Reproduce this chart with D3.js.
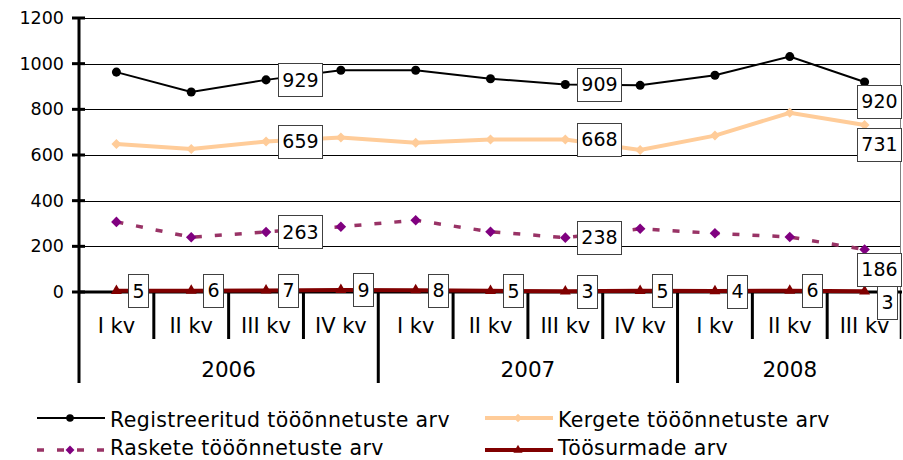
<!DOCTYPE html>
<html>
<head>
<meta charset="utf-8">
<script src="https://cdn.jsdelivr.net/npm/d3@7"></script>
<style>
  html, body { margin: 0; padding: 0; background: #fff; }
  svg { display: block; font-family: "DejaVu Sans", Verdana, sans-serif; }
</style>
</head>
<body>
<svg id="chart" width="903" height="460"></svg>
<script>
// ---- data ----
const quarters = ["I kv","II kv","III kv","IV kv","I kv","II kv","III kv","IV kv","I kv","II kv","III kv"];
const years = ["2006","2007","2008"];
const yearCounts = [4, 4, 3];
const yTicks = [0, 200, 400, 600, 800, 1000, 1200];

const registered = [963, 876, 929, 971, 971, 934, 909, 905, 949, 1031, 920];
const kergete    = [648, 626, 659, 677, 654, 668, 668, 622, 685, 785, 731];
const raskete    = [307, 240, 263, 286, 314, 264, 238, 277, 257, 241, 186];
const deaths     = [5, 6, 7, 9, 8, 5, 3, 5, 4, 6, 3];

const seriesNames = ["Registreeritud tööõnnetuste arv", "Kergete tööõnnetuste arv",
                     "Raskete tööõnnetuste arv", "Töösurmade arv"];
const labelledIdx = [2, 6, 10];

(function () {
// ---- layout ----
const pLeft = 79, pRight = 902, pTop = 18, pBottom = 292;
const svg = d3.select("#chart");

const x = d3.scaleBand().domain(d3.range(quarters.length)).range([pLeft, pRight]).padding(0);
const y = d3.scaleLinear().domain([0, 1200]).range([pBottom, pTop]);
const cx = i => x(i) + x.bandwidth() / 2;
const edge = i => i < quarters.length ? x(i) : pRight;

// square-ish diamond symbol (area = 2 r^2)
const symbolRhomb = {
  draw(ctx, size) {
    const r = Math.sqrt(size / 2);
    ctx.moveTo(0, -r); ctx.lineTo(r, 0); ctx.lineTo(0, r); ctx.lineTo(-r, 0); ctx.closePath();
  }
};

// gridlines
svg.append("g").selectAll("line").data(yTicks.filter(d => d > 0)).join("line")
  .attr("x1", pLeft).attr("x2", pRight - 1)
  .attr("y1", d => Math.round(y(d)) + 0.5).attr("y2", d => Math.round(y(d)) + 0.5)
  .attr("stroke", "#000").attr("stroke-width", 1);

// right border
svg.append("line").attr("x1", pRight - 1.5).attr("x2", pRight - 1.5)
  .attr("y1", y(1200)).attr("y2", pBottom).attr("stroke", "#808080").attr("stroke-width", 1);

// y axis
const yAxis = d3.axisLeft(y).tickValues(yTicks).tickFormat(d3.format("d")).tickSize(0).tickPadding(15);
const gy = svg.append("g").attr("transform", `translate(${pLeft},0)`).call(yAxis);
gy.select(".domain").remove();
gy.selectAll("text").attr("font-size", 17.5).attr("fill", "#000")
  .attr("font-family", "DejaVu Sans, Verdana, sans-serif");
svg.append("g").selectAll("line").data(yTicks).join("line")
  .attr("x1", pLeft - 7).attr("x2", pLeft + 6)
  .attr("y1", d => y(d)).attr("y2", d => y(d))
  .attr("stroke", "#000").attr("stroke-width", 3);
svg.append("line").attr("x1", pLeft).attr("x2", pLeft).attr("y1", pTop).attr("y2", 383)
  .attr("stroke", "#000").attr("stroke-width", 3);

// x axis
svg.append("line").attr("x1", pLeft).attr("x2", pRight).attr("y1", pBottom).attr("y2", pBottom)
  .attr("stroke", "#000").attr("stroke-width", 3);
// quarter dividers
const dividers = d3.range(1, quarters.length + 1);
const yearStarts = [0];
yearCounts.forEach((c, i) => yearStarts.push(yearStarts[i] + c));
svg.append("g").selectAll("line").data(dividers).join("line")
  .attr("x1", i => Math.min(edge(i), pRight - 1.5))
  .attr("x2", i => Math.min(edge(i), pRight - 1.5))
  .attr("y1", pBottom)
  .attr("y2", i => (yearStarts.includes(i) && i < quarters.length) ? 383 : 339)
  .attr("stroke", "#000")
  .attr("stroke-width", i => i < quarters.length ? 3 : 1.5);
// quarter labels
svg.append("g").selectAll("text").data(quarters).join("text")
  .attr("x", (d, i) => cx(i)).attr("y", 333)
  .attr("text-anchor", "middle").attr("font-size", 21).attr("fill", "#000")
  .text(d => d);
// year labels
svg.append("g").selectAll("text").data(years).join("text")
  .attr("x", (d, i) => (edge(yearStarts[i]) + edge(yearStarts[i + 1])) / 2)
  .attr("y", 377).attr("text-anchor", "middle").attr("font-size", 21.5).attr("fill", "#000")
  .text(d => d);

// ---- series ----
const lineGen = vals => d3.line().x((d, i) => cx(i)).y(d => y(d))(vals);

const series = [
  { vals: registered, color: "#000000", marker: "#000000", width: 2, dash: null, sym: d3.symbolCircle, size: 64, labels: labelledIdx },
  { vals: kergete, color: "#FFCC99", marker: "#FFCC99", width: 4, dash: null, sym: symbolRhomb, size: 50, labels: labelledIdx },
  { vals: raskete, color: "#993366", marker: "#800080", width: 3.5, dash: "7 13", sym: symbolRhomb, size: 56, labels: labelledIdx },
  { vals: deaths, color: "#800000", marker: "#800000", width: 4, dash: null, sym: d3.symbolTriangle, size: 52, labels: d3.range(deaths.length) }
];

series.forEach(s => {
  svg.append("path").attr("d", lineGen(s.vals)).attr("fill", "none")
    .attr("stroke", s.color).attr("stroke-width", s.width)
    .attr("stroke-dasharray", s.dash);
  svg.append("g").selectAll("path").data(s.vals).join("path")
    .attr("transform", (d, i) => `translate(${cx(i)},${y(d)})`)
    .attr("d", d3.symbol().type(s.sym).size(s.size)())
    .attr("fill", s.marker);
});

// ---- data labels ----
const labelG = svg.append("g");
const placed = [];
const fs = 19;
series.forEach(s => {
  s.labels.forEach(i => {
    const v = s.vals[i];
    const txt = String(v);
    const w = txt.length * fs * 0.636 + 8;
    const h = 33;
    const px = cx(i), py = y(v);
    let bx = px + 12, by = py - h / 2;
    if (bx + w > pRight - 1) { bx = pRight - 1 - w; by = py + 3; }
    placed.forEach(p => {
      if (bx < p.x + p.w && bx + w > p.x && by < p.y + p.h && by + h > p.y) by = p.y + p.h;
    });
    placed.push({ x: bx, y: by, w, h });
    labelG.append("rect").attr("x", Math.round(bx) + 0.5).attr("y", Math.round(by) + 0.5)
      .attr("width", Math.round(w)).attr("height", h)
      .attr("fill", "#fff").attr("stroke", "#404040").attr("stroke-width", 1);
    labelG.append("text").attr("x", Math.round(bx) + 0.5 + Math.round(w) / 2)
      .attr("y", by + h / 2 + fs * 0.36)
      .attr("text-anchor", "middle").attr("font-size", fs).attr("fill", "#000")
      .text(txt);
  });
});

// ---- legend ----
const legendPos = [
  { lx: 37, tx: 110, cy: 418, by: 426.5 },
  { lx: 485, tx: 558, cy: 418, by: 426.5 },
  { lx: 37, tx: 110, cy: 450, by: 455 },
  { lx: 485, tx: 558, cy: 450, by: 455 }
];
series.forEach((s, k) => {
  const p = legendPos[k];
  const g = svg.append("g");
  g.append("line").attr("x1", p.lx).attr("x2", p.lx + 68).attr("y1", p.cy).attr("y2", p.cy)
    .attr("stroke", s.color).attr("stroke-width", s.width === 2 ? 2 : (s.dash ? 3.5 : 4))
    .attr("stroke-dasharray", s.dash);
  g.append("path").attr("transform", `translate(${p.lx + 33},${p.cy})`)
    .attr("d", d3.symbol().type(s.sym).size(s.size * 0.7)()).attr("fill", s.marker);
  g.append("text").attr("x", p.tx).attr("y", p.by).attr("font-size", 20.5)
    .attr("letter-spacing", 0.4).attr("fill", "#000").text(seriesNames[k]);
});
})();
</script>
</body>
</html>
